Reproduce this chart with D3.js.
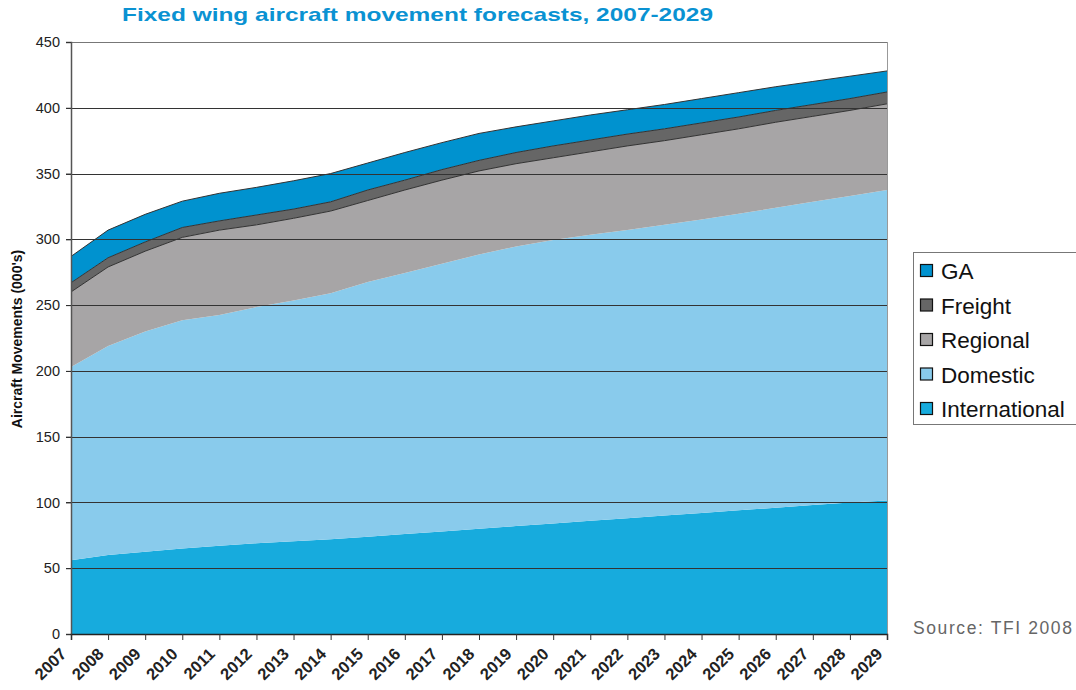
<!DOCTYPE html>
<html>
<head>
<meta charset="utf-8">
<script src="https://cdn.jsdelivr.net/npm/d3@7/dist/d3.min.js"></script>
<style>
  html, body { margin: 0; padding: 0; background: #fff; }
  svg { display: block; }
</style>
</head>
<body>
<svg id="chart" width="1076" height="690"></svg>
<script>
const years = [2007,2008,2009,2010,2011,2012,2013,2014,2015,2016,2017,2018,2019,2020,2021,2022,2023,2024,2025,2026,2027,2028,2029];
const international = [56,60,62.5,65,67,69,70.5,72,74,76,78,80,82,84,86,88,90,92,94,96,98,100,101.5];
const domestic = [147,159,167.5,173.5,175.5,179.5,183,187,193.5,198.5,203.5,208.5,212.5,215.5,217.5,219,221,223,225.5,228,230.5,233,236];
const regional = [57,60,61,63,64.5,62.5,62.5,62.5,62,63,63.5,63.5,63,62.5,63,64,64,64.5,64.5,65,65,65,65.5];
const freight = [7,7,7,7.5,7,7.5,7,7,8,7.5,8,8,8.5,9,9,9,9,9,9,9,9,9,9];
const ga = [20,21,21,20,21,21,21.5,21.5,20.5,21,20.5,20.5,19.5,19,19,18.5,18.5,18.5,18.5,18,17.5,17,16];
const seriesNames = ["International","Domestic","Regional","Freight","GA"];
const seriesColors = ["#17abdd","#89cbec","#a7a5a6","#666666","#0092cf"];
const yTicks = [0,50,100,150,200,250,300,350,400,450];
const titleText = "Fixed wing aircraft movement forecasts, 2007-2029";
const yLabel = "Aircraft Movements (000's)";
const sourceText = "Source: TFI 2008";

const svg = d3.select("#chart");
const margin = {left: 71, right: 887, top: 42, bottom: 634};

const x = d3.scaleLinear().domain([years[0], years[years.length-1]]).range([margin.left, margin.right]);
const y = d3.scaleLinear().domain([0, 450]).range([margin.bottom, margin.top]);

const rows = years.map((yr, i) => ({
  year: yr,
  International: international[i],
  Domestic: domestic[i],
  Regional: regional[i],
  Freight: freight[i],
  GA: ga[i]
}));
const stacked = d3.stack().keys(seriesNames)(rows);

const area = d3.area().x(d => x(d.data.year)).y0(d => y(d[0])).y1(d => y(d[1]));
const topLine = d3.line().x(d => x(d.data.year)).y(d => y(d[1]));

svg.append("g").selectAll("path").data(stacked).join("path")
  .attr("d", area)
  .attr("fill", (d, i) => seriesColors[i]);

// dark outlines on upper series
svg.append("g").selectAll("path").data(stacked.filter(s => ["Regional","Freight","GA"].includes(s.key))).join("path")
  .attr("d", topLine)
  .attr("fill", "none")
  .attr("stroke", "#333")
  .attr("stroke-width", 1);

// gridlines over areas
svg.append("g").selectAll("line").data(yTicks.filter(t => t > 0)).join("line")
  .attr("x1", margin.left - 5).attr("x2", margin.right)
  .attr("y1", d => Math.round(y(d)) + 0.5).attr("y2", d => Math.round(y(d)) + 0.5)
  .attr("stroke", d => d === 450 ? "#777" : "#333")
  .attr("stroke-width", 1);

// right border
svg.append("line")
  .attr("x1", margin.right + 0.5).attr("x2", margin.right + 0.5)
  .attr("y1", margin.top).attr("y2", margin.bottom)
  .attr("stroke", "#999").attr("stroke-width", 1);

// Y axis
const yAxis = svg.append("g")
  .attr("transform", `translate(${margin.left},0)`)
  .call(d3.axisLeft(y).tickValues(yTicks).tickSize(5).tickPadding(6));
yAxis.select(".domain").attr("stroke", "#555").attr("stroke-width", 1.5);
yAxis.selectAll(".tick line").attr("stroke", "#333");
yAxis.selectAll("text").attr("font-family", "Liberation Sans, Arial, sans-serif").attr("font-size", 14.5).attr("fill", "#222");

// X axis
const xAxis = svg.append("g")
  .attr("transform", `translate(0,${margin.bottom})`)
  .call(d3.axisBottom(x).tickValues(years).tickFormat(d3.format("d")).tickSize(6).tickPadding(4));
xAxis.select(".domain").attr("stroke", "#222").attr("stroke-width", 1.5);
xAxis.selectAll(".tick line").attr("stroke", "#333");
xAxis.selectAll("text")
  .attr("font-family", "Liberation Sans, Arial, sans-serif")
  .attr("font-size", 16.5)
  .attr("font-weight", "bold")
  .attr("fill", "#222")
  .attr("text-anchor", "end")
  .attr("dy", null)
  .attr("transform", "translate(-11,14) rotate(-45)");

// Title
svg.append("text")
  .attr("x", 122).attr("y", 21)
  .attr("font-family", "Liberation Sans, Arial, sans-serif")
  .attr("font-weight", "bold")
  .attr("font-size", 19)
  .attr("fill", "#0a92d2")
  .attr("textLength", 591)
  .attr("lengthAdjust", "spacingAndGlyphs")
  .text(titleText);

// Y label
svg.append("text")
  .attr("transform", "translate(22,339) rotate(-90)")
  .attr("text-anchor", "middle")
  .attr("font-family", "Liberation Sans, Arial, sans-serif")
  .attr("font-weight", "bold")
  .attr("font-size", 14)
  .attr("fill", "#111")
  .text(yLabel);

// Legend
const legend = svg.append("g");
legend.append("rect")
  .attr("x", 913.5).attr("y", 252.5).attr("width", 170).attr("height", 172)
  .attr("fill", "#fff").attr("stroke", "#777").attr("stroke-width", 1);
const legendOrder = seriesNames.slice().reverse();
const legendItems = legend.selectAll("g.item").data(legendOrder).join("g")
  .attr("class", "item")
  .attr("transform", (d, i) => `translate(920,${264 + i * 34.5})`);
legendItems.append("rect")
  .attr("x", 0.5).attr("y", 0.5).attr("width", 12).attr("height", 12)
  .attr("fill", d => seriesColors[seriesNames.indexOf(d)])
  .attr("stroke", "#111").attr("stroke-width", 1.2);
legendItems.append("text")
  .attr("x", 21).attr("y", 15)
  .attr("font-family", "Liberation Sans, Arial, sans-serif")
  .attr("font-size", 22.5)
  .attr("fill", "#111")
  .text(d => d);

// Source
svg.append("text")
  .attr("x", 913).attr("y", 634)
  .attr("font-family", "Liberation Sans, Arial, sans-serif")
  .attr("font-size", 17.5)
  .attr("letter-spacing", 1.6)
  .attr("fill", "#666")
  .text(sourceText);
</script>
</body>
</html>
